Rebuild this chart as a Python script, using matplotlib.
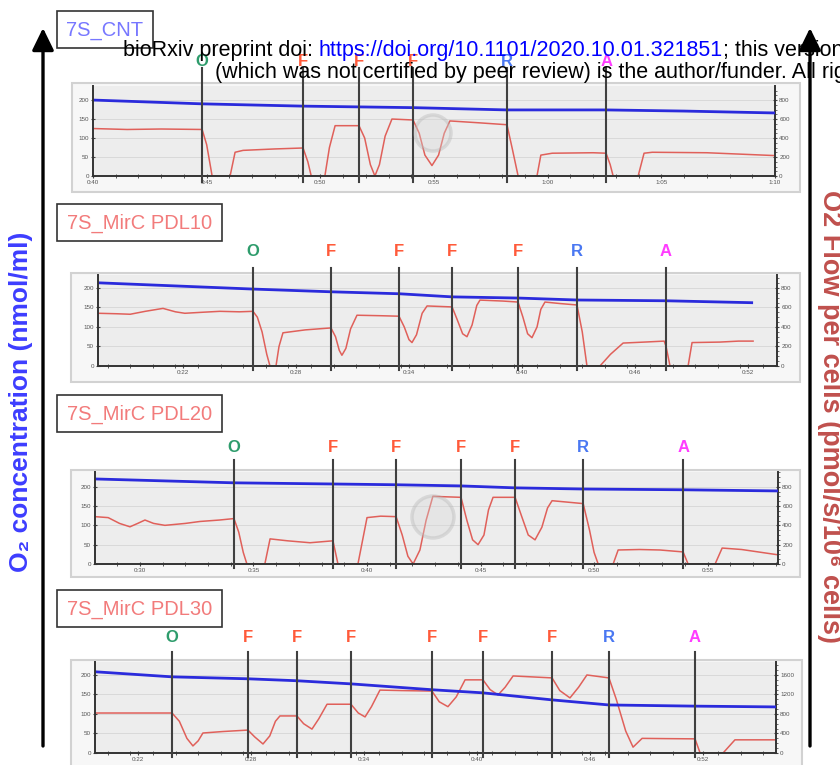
import matplotlib
matplotlib.use('Agg')
import matplotlib.pyplot as plt
from matplotlib.patches import Rectangle, Circle
from matplotlib.ticker import MultipleLocator, FixedLocator, FuncFormatter

plt.rcParams['font.family'] = ['Liberation Sans', 'DejaVu Sans']

# ---------------- data (time in minutes) ----------------
cnt_flow = [(40, 500), (41.5, 490), (43, 495), (44.8, 490), (45.0, 330), (45.24, 0), (46.03, 0),
            (46.25, 250), (46.6, 270), (48.0, 285), (49.24, 295), (49.45, 150), (49.6, 0), (50.2, 0),
            (50.4, 300), (50.65, 530), (51.7, 530), (51.95, 400), (52.2, 120), (52.4, 0), (52.6, 120),
            (52.85, 420), (53.15, 600), (54.08, 590), (54.35, 450), (54.6, 220), (54.91, 110),
            (55.2, 220), (55.45, 450), (55.7, 580), (57.0, 560), (58.21, 540), (58.45, 280), (58.7, 0),
            (59.53, 0), (59.7, 220), (60.2, 240), (62.0, 245), (62.57, 240), (62.75, 120), (62.88, 0),
            (63.98, 0), (64.24, 240), (64.6, 250), (67.0, 245), (70.0, 215)]
cnt_o2 = [(40, 200), (44.8, 190), (49.24, 184), (54.08, 180), (58.21, 174), (62.57, 174), (66, 171), (70, 166)]
cnt_events = [(44.8, 'O'), (49.24, 'F'), (51.7, 'F'), (54.08, 'F'), (58.21, 'R'), (62.57, 'A')]

pdl10_flow = [(17.5, 540), (18.5, 535), (19.2, 530), (20.0, 560), (20.94, 590), (21.6, 555), (22.1, 540),
              (23.0, 550), (23.96, 560), (25.0, 555), (25.72, 560), (25.95, 500), (26.2, 350), (26.45, 120),
              (26.62, 0), (26.94, 0), (27.1, 200), (27.31, 340), (28.5, 370), (29.86, 390), (30.1, 300),
              (30.3, 160), (30.44, 110), (30.65, 180), (30.9, 380), (31.24, 520), (32.5, 515), (33.47, 510),
              (33.75, 400), (34.0, 270), (34.16, 240), (34.4, 320), (34.7, 540), (34.96, 615), (36.29, 605),
              (36.55, 480), (36.85, 330), (37.08, 300), (37.35, 420), (37.6, 620), (37.77, 675), (39.0, 665),
              (39.79, 655), (40.05, 500), (40.3, 330), (40.53, 290), (40.8, 400), (41.0, 580), (41.22, 655),
              (42.0, 640), (42.92, 625), (43.2, 350), (43.45, 0), (44.14, 0), (44.7, 120), (45.37, 235),
              (46.5, 245), (47.55, 255), (47.65, 200), (47.86, 0), (48.82, 0), (49.03, 240), (50.5, 245),
              (51.5, 255), (52.27, 255)]
pdl10_o2 = [(17.5, 213), (25.72, 197), (29.86, 190), (33.47, 185), (36.29, 177), (39.79, 174),
            (42.92, 169), (47.65, 167), (52.27, 162)]
pdl10_events = [(25.72, 'O'), (29.86, 'F'), (33.47, 'F'), (36.29, 'F'), (39.79, 'F'), (42.92, 'R'), (47.65, 'A')]

pdl20_flow = [(28.02, 490), (28.6, 480), (29.1, 420), (29.56, 385), (29.9, 420), (30.22, 455), (30.6, 420),
              (31.1, 400), (32.0, 420), (32.64, 440), (33.5, 455), (34.14, 470), (34.35, 330), (34.55, 120),
              (34.71, 0), (35.5, 0), (35.73, 260), (36.5, 240), (37.49, 220), (38.5, 240), (38.72, 0),
              (39.6, 0), (40.0, 480), (40.6, 495), (41.28, 490), (41.55, 300), (41.8, 80), (42.03, 0),
              (42.33, 145), (42.6, 450), (42.9, 700), (44.14, 690), (44.4, 450), (44.65, 250), (44.89, 200),
              (45.15, 300), (45.35, 560), (45.55, 690), (46.52, 690), (46.8, 500), (47.1, 300), (47.4, 250),
              (47.7, 380), (47.95, 580), (48.15, 655), (49.52, 625), (49.8, 350), (50.0, 120), (50.18, 0),
              (50.84, 0), (51.06, 145), (52.0, 150), (52.9, 145), (53.92, 125), (54.14, 0), (55.33, 0),
              (55.64, 165), (56.5, 150), (58.1, 95)]
pdl20_o2 = [(28.02, 220), (34.14, 210), (38.5, 207), (41.28, 205), (44.14, 202), (46.52, 197),
            (49.52, 194), (53.92, 192), (58.1, 189)]
pdl20_events = [(34.14, 'O'), (38.5, 'F'), (41.28, 'F'), (44.14, 'F'), (46.52, 'F'), (49.52, 'R'), (53.92, 'A')]

pdl30_flow = [(19.72, 820), (23.81, 820), (24.2, 650), (24.6, 300), (24.92, 145), (25.2, 250), (25.45, 410),
              (26.5, 440), (27.84, 470), (28.2, 330), (28.64, 185), (29.0, 350), (29.3, 650), (29.54, 760),
              (30.44, 760), (30.8, 600), (31.24, 490), (31.6, 700), (32.04, 1000), (33.31, 1000),
              (33.7, 820), (34.06, 740), (34.4, 950), (34.85, 1290), (36.0, 1280), (37.61, 1270),
              (38.0, 1050), (38.46, 950), (38.9, 1150), (39.37, 1500), (40.32, 1500), (40.7, 1300),
              (41.12, 1190), (41.5, 1350), (41.92, 1580), (43.99, 1540), (44.4, 1280), (44.94, 1130),
              (45.4, 1350), (45.84, 1600), (47.01, 1540), (47.4, 1100), (47.9, 450), (48.29, 120),
              (48.77, 300), (50.0, 295), (51.58, 290), (51.85, 0), (53.07, 0), (53.7, 270), (55.88, 270)]
pdl30_o2 = [(19.72, 208), (23.81, 195), (27.84, 190), (30.44, 185), (33.31, 177), (37.61, 162),
            (40.32, 154), (43.99, 136), (47.01, 123), (51.58, 120), (55.88, 118)]
pdl30_events = [(23.81, 'O'), (27.84, 'F'), (30.44, 'F'), (33.31, 'F'), (37.61, 'F'), (40.32, 'F'),
                (43.99, 'F'), (47.01, 'R'), (51.58, 'A')]

sample_names = ['7S_CNT', '7S_MirC PDL10', '7S_MirC PDL20', '7S_MirC PDL30']
left_ticks = [0, 50, 100, 150, 200]

# ---------------- layout / style ----------------
W, H = 840, 765
fig = plt.figure(figsize=(W / 100, H / 100), dpi=100)


def fbox(x0, y0, x1, y1):
    return [x0 / W, 1 - y1 / H, (x1 - x0) / W, (y1 - y0) / H]


bg = fig.add_axes([0, 0, 1, 1], zorder=0)
bg.set_xlim(0, W); bg.set_ylim(H, 0); bg.axis('off')
fg = fig.add_axes([0, 0, 1, 1], zorder=20)
fg.set_xlim(0, W); fg.set_ylim(H, 0); fg.axis('off')

ev_colors = {'O': '#2e9c6c', 'F': '#ff5a3a', 'R': '#4a78f2', 'A': '#ff3cff'}

panels = [
    dict(flow=cnt_flow, o2=cnt_o2, events=cnt_events, name_color='#7777ff', box=(57, 11, 153, 48),
         frame=(72, 83, 800, 192), axes=(93, 86, 775, 176), xlim=(40, 70), major=list(range(40, 71, 5)),
         minor=1.0, ltop=237, rtop=948, rstep=200, line_top=68, line_bot=182, letter_y=62),
    dict(flow=pdl10_flow, o2=pdl10_o2, events=pdl10_events, name_color='#f27b7b', box=(57, 204, 222, 241),
         frame=(71, 273, 800, 382), axes=(98, 275, 777, 366), xlim=(17.49, 53.54),
         major=list(range(22, 53, 6)), minor=1.2, ltop=233, rtop=932, rstep=200, line_top=268,
         line_bot=370, letter_y=252),
    dict(flow=pdl20_flow, o2=pdl20_o2, events=pdl20_events, name_color='#f27b7b', box=(57, 395, 222, 432),
         frame=(71, 470, 800, 577), axes=(95, 472, 778, 564), xlim=(28.02, 58.1),
         major=list(range(30, 56, 5)), minor=1.0, ltop=238, rtop=952, rstep=200, line_top=460,
         line_bot=568, letter_y=447),
    dict(flow=pdl30_flow, o2=pdl30_o2, events=pdl30_events, name_color='#f27b7b', box=(57, 590, 222, 627),
         frame=(71, 660, 802, 780), axes=(95, 662, 776, 753), xlim=(19.72, 55.88),
         major=list(range(22, 53, 6)), minor=1.2, ltop=233, rtop=1866, rstep=400, line_top=652,
         line_bot=757, letter_y=638),
]


def fmt_time(m, pos=None):
    m = int(round(m))
    return f"{m // 60}:{m % 60:02d}"


for p, name in zip(panels, sample_names):
    # image frame
    fx0, fy0, fx1, fy1 = p['frame']
    bg.add_patch(Rectangle((fx0, fy0), fx1 - fx0, fy1 - fy0, facecolor='#f7f7f7',
                           edgecolor='#d2d2d2', lw=1.5))
    # sample label box
    bx0, by0, bx1, by1 = p['box']
    fg.add_patch(Rectangle((bx0, by0), bx1 - bx0, by1 - by0, facecolor='white', edgecolor='#333333', lw=1.2))
    fg.text((bx0 + bx1) / 2, (by0 + by1) / 2 + 1, name, ha='center', va='center', fontsize=14.5,
            color=p['name_color'])

    ax0, ay0, ax1, ay1 = p['axes']
    ax = fig.add_axes(fbox(ax0, ay0, ax1, ay1))
    ax2 = ax.twinx()
    ax2.set_zorder(1)
    ax.set_zorder(2)
    ax.patch.set_visible(False)
    ax2.patch.set_visible(True)
    ax2.patch.set_facecolor('#ededed')

    ft, fv = zip(*p['flow'])
    ot, ov = zip(*p['o2'])
    ax2.plot(ft, fv, color='#e0605a', lw=1.1)
    ax.plot(ot, ov, color='#2b2bdc', lw=2.0, solid_capstyle='butt')

    ax.set_xlim(*p['xlim'])
    ax.set_ylim(0, p['ltop'])
    ax2.set_ylim(0, p['rtop'])
    ax.set_yticks(left_ticks)
    ax2.set_yticks([p['rstep'] * i for i in range(5)])
    ax2.yaxis.set_minor_locator(MultipleLocator(p['rstep'] / 4))
    ax2.grid(True, axis='y', color='#d9d9d9', lw=0.7)
    ax.xaxis.set_major_locator(FixedLocator(p['major']))
    ax.xaxis.set_minor_locator(MultipleLocator(p['minor']))
    ax.xaxis.set_major_formatter(FuncFormatter(fmt_time))

    for s in ['top', 'right']:
        ax.spines[s].set_visible(False)
    for s in ['top', 'left', 'bottom']:
        ax2.spines[s].set_visible(False)
    for s in ['left', 'bottom']:
        ax.spines[s].set_color('#333333'); ax.spines[s].set_linewidth(1.4)
    ax2.spines['right'].set_color('#333333'); ax2.spines['right'].set_linewidth(1.4)

    ax.tick_params(axis='both', which='major', labelsize=4.5, labelcolor='#555555', color='#444444',
                   length=3, width=0.8, pad=1.5, direction='inout')
    ax.tick_params(axis='x', which='minor', length=2.5, width=0.7, color='#555555', direction='inout')
    ax2.tick_params(axis='y', which='major', labelsize=4.5, labelcolor='#555555', color='#444444',
                    length=3, width=0.8, pad=1.5, direction='inout')
    ax2.tick_params(axis='y', which='minor', length=1.5, width=0.6, color='#555555')

    hpx = ay1 - ay0

    def yf(px):
        return (ay1 - px) / hpx

    tr = ax.get_xaxis_transform()
    for t, lab in p['events']:
        ax.plot([t, t], [yf(p['line_bot']), yf(p['line_top'])], transform=tr, clip_on=False,
                color='#404040', lw=1.5, zorder=6)
        ax.text(t, yf(p['letter_y']), lab, transform=tr, ha='center', va='center', fontsize=12,
                fontweight='bold', color=ev_colors[lab], clip_on=False, zorder=7)

# faint watermark rings seen in the screenshot
for cx, cy, r in [(433, 133, 18), (433, 517, 21)]:
    fg.add_patch(Circle((cx, cy), r, facecolor='#d8d8d8', edgecolor='#b0b0b0', lw=2.5, alpha=0.35))

# header text (bioRxiv)
fig.canvas.draw()
renderer = fig.canvas.get_renderer()
x = 123
for part, col in [("bioRxiv preprint doi: ", 'black'),
                  ("https://doi.org/10.1101/2020.10.01.321851", '#0000ff'),
                  ("; this version", 'black')]:
    t = fg.text(x, 50, part, ha='left', va='center', fontsize=15.5, color=col)
    x = t.get_window_extent(renderer).x1
fg.text(215, 72, "(which was not certified by peer review) is the author/funder. All rights",
        ha='left', va='center', fontsize=15.5, color='black')

# axis arrows
for ax_x in (43, 810):
    fg.annotate('', xy=(ax_x, 28), xytext=(ax_x, 746),
                arrowprops=dict(arrowstyle='-|>,head_length=0.45,head_width=0.22', lw=2.4,
                                color='black', mutation_scale=30, shrinkA=0, shrinkB=0))

fg.text(21, 402, 'O₂ concentration (nmol/ml)', rotation=90, ha='center', va='center',
        fontsize=19, fontweight='bold', color='#3d3dff')
fg.text(830, 416, 'O2 Flow per cells (pmol/s/10⁶ cells)', rotation=-90, ha='center', va='center',
        fontsize=19.5, fontweight='bold', color='#c0504d')

fig.savefig('out.png', dpi=100)
